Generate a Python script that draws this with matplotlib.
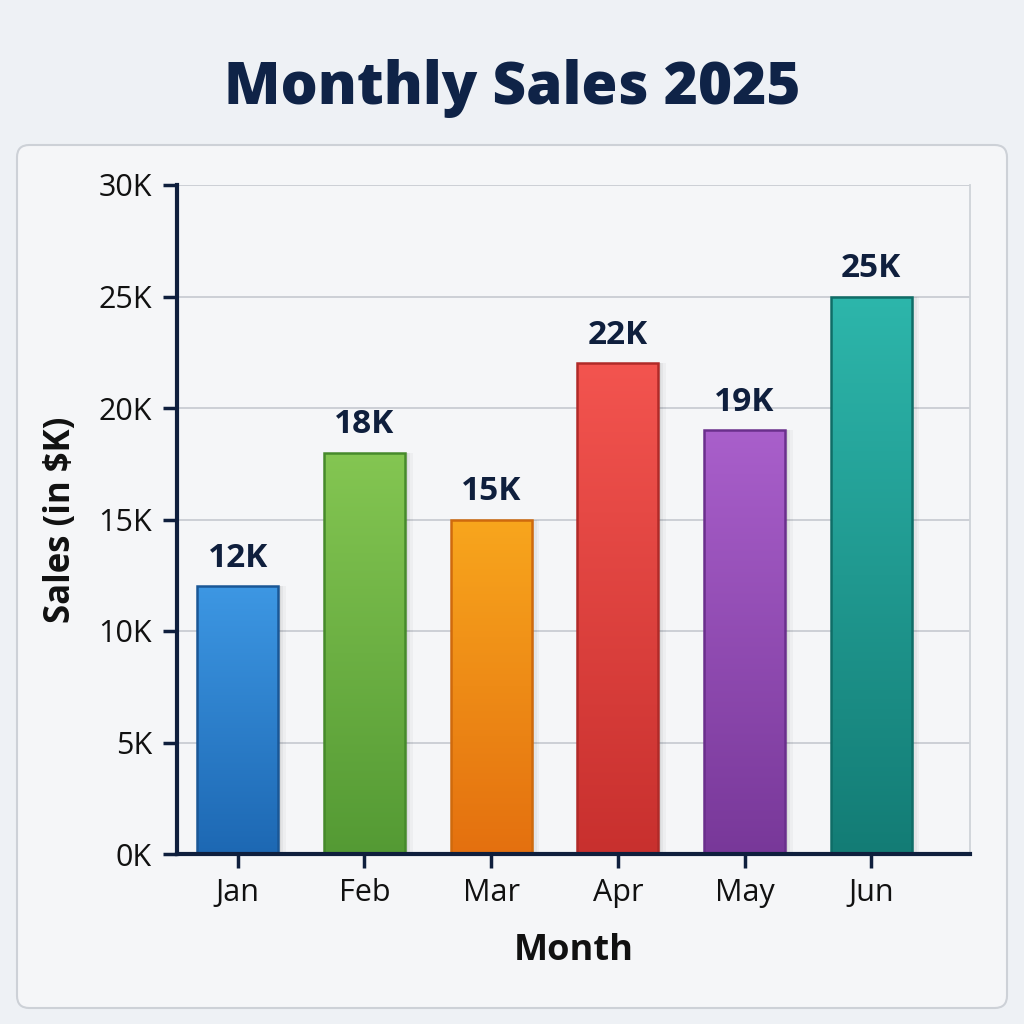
import matplotlib
matplotlib.use("Agg")
import matplotlib.pyplot as plt
import numpy as np
from matplotlib.patches import FancyBboxPatch
from matplotlib.colors import LinearSegmentedColormap

plt.rcParams['font.family'] = ['Open Sans', 'DejaVu Sans']

months = ["Jan", "Feb", "Mar", "Apr", "May", "Jun"]
sales = [12, 18, 15, 22, 19, 25]
labels = ["12K", "18K", "15K", "22K", "19K", "25K"]
yticks = [0, 5, 10, 15, 20, 25, 30]
ytick_labels = ["0K", "5K", "10K", "15K", "20K", "25K", "30K"]
top_colors = ["#3d97e3", "#84c652", "#f8a61d", "#f3544f", "#a95fcb", "#2db6ab"]
bottom_colors = ["#1d68b3", "#549a34", "#e4700f", "#c8302e", "#783899", "#137c75"]
edge_colors = ["#1a5796", "#468a2b", "#cf6a0d", "#b02a28", "#6a2f8c", "#0f6d67"]

navy = "#0f1f3d"

fig = plt.figure(figsize=(10.24, 10.24), dpi=100)
fig.patch.set_facecolor("#eef1f5")

# panel
panel = FancyBboxPatch((17/1024, 1-1008/1024), (1007-17)/1024, (1008-145)/1024,
                       boxstyle="round,pad=0,rounding_size=0.012",
                       transform=fig.transFigure, facecolor="#f5f6f8",
                       edgecolor="#cdd1d7", linewidth=1.5, zorder=-5)
fig.patches.append(panel)

ax = fig.add_axes([177/1024, 1-854/1024, (970-177)/1024, (854-185)/1024], zorder=2)
ax.set_facecolor("none")

x = np.arange(len(months))
width = 0.64
bars = ax.bar(x, sales, width=width, color="none", edgecolor=[c for c in edge_colors],
              linewidth=1.8, zorder=4)

# shadows
for b in bars:
    for k, a in enumerate([0.05, 0.04, 0.03]):
        ax.bar(b.get_x() + b.get_width() / 2 + 0.02 * (k + 1), b.get_height(),
               width=width, color="#000000", alpha=a, linewidth=0, zorder=2)

# gradients
grad = np.linspace(1, 0, 256).reshape(-1, 1)
for b, tc, bc in zip(bars, top_colors, bottom_colors):
    cmap = LinearSegmentedColormap.from_list("g", [bc, tc])
    x0 = b.get_x()
    x1 = x0 + b.get_width()
    im = ax.imshow(grad, extent=[x0, x1, 0, b.get_height()], aspect="auto",
                   cmap=cmap, origin="upper", zorder=3)
    im.set_clip_path(b)

for xi, v, lab in zip(x, sales, labels):
    ax.annotate(lab, (xi, v), xytext=(0, 8), textcoords="offset points",
                ha="center", va="bottom", fontsize=24, fontweight="bold", color=navy, zorder=5)

ax.set_xlim(-0.48, 5.78)
ax.set_ylim(0, 30)
ax.set_yticks(yticks)
ax.set_yticklabels(ytick_labels)
ax.set_xticks(x)
ax.set_xticklabels(months)

ax.grid(axis="y", color="#c9cdd3", linewidth=1.3, zorder=1)
ax.set_axisbelow(True)

ax.spines["top"].set_visible(False)
ax.spines["right"].set_color("#cfd3d8")
ax.spines["right"].set_linewidth(1.3)
ax.spines["left"].set_color(navy)
ax.spines["left"].set_linewidth(3)
ax.spines["bottom"].set_color(navy)
ax.spines["bottom"].set_linewidth(3)
ax.spines["bottom"].set_zorder(6)

ax.tick_params(axis="y", length=10, width=2.5, color=navy, labelsize=22, labelcolor="#111111", pad=8)
ax.tick_params(axis="x", length=10, width=2.5, color=navy, labelsize=22, labelcolor="#111111", pad=7)

ax.set_xlabel("Month", fontsize=26, fontweight="bold", color="#111111", labelpad=18)
ax.set_ylabel(r"Sales (in \$K)", fontsize=25, fontweight="bold", color="#111111", labelpad=14)

fig.text(0.5, 1 - 88/1024, "Monthly Sales 2025", ha="center", va="center",
         fontsize=42, fontweight="extra bold", color="#0f2347")

fig.savefig("out.png", dpi=100, facecolor=fig.get_facecolor())
